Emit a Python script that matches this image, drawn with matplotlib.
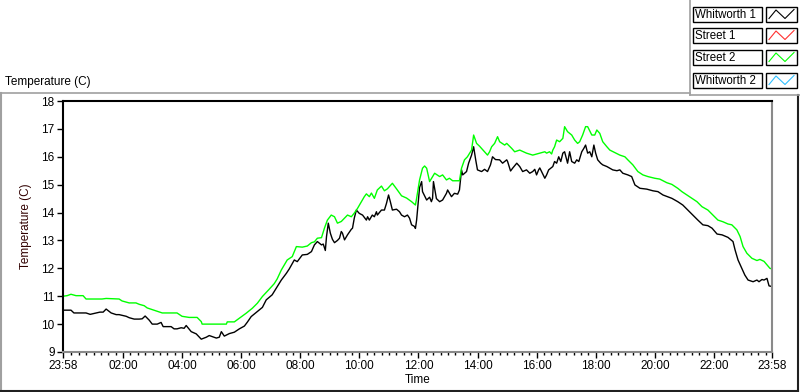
import numpy as np
import matplotlib
matplotlib.use("Agg")
import matplotlib.pyplot as plt
from matplotlib.lines import Line2D
from matplotlib.patches import Rectangle

plt.rcParams['font.family'] = ['Liberation Sans', 'DejaVu Sans']
plt.rcParams['font.size'] = 8.5

# hours after the 23:58 start
black_t = [0.00, 0.27, 0.37, 0.78, 0.92, 1.12, 1.25, 1.36, 1.46, 1.63, 1.80, 1.90, 2.14, 2.24, 2.41,
           2.58, 2.68, 2.78, 2.92, 3.02, 3.19, 3.32, 3.39, 3.66, 3.76, 3.86, 4.00, 4.10, 4.17, 4.34,
           4.51, 4.68, 4.85, 4.95, 5.19, 5.29, 5.36, 5.46, 5.63, 5.80, 5.97, 6.14, 6.24, 6.37, 6.58,
           6.75, 6.88, 7.08, 7.25, 7.39, 7.56, 7.66, 7.83, 7.93, 8.10,
           8.27, 8.41, 8.51, 8.61, 8.75, 8.81, 8.88, 8.92, 8.98, 9.05, 9.12, 9.19, 9.29, 9.36, 9.42,
           9.46, 9.53, 9.63, 9.76, 9.80, 9.86, 9.93, 10.03, 10.14, 10.27, 10.31, 10.37, 10.47, 10.54,
           10.61, 10.64, 10.78, 10.88, 10.95, 11.02, 11.08, 11.15, 11.29, 11.39, 11.46, 11.56, 11.66,
           11.73, 11.80, 11.90, 11.93, 11.97, 12.03, 12.07, 12.14, 12.17,
           12.31, 12.41, 12.47, 12.51, 12.54, 12.64, 12.75, 12.85, 12.98, 13.02, 13.15, 13.25, 13.36,
           13.42, 13.49, 13.53, 13.66, 13.73, 13.83, 13.90, 13.97, 14.03, 14.17, 14.27, 14.37, 14.47,
           14.54, 14.64, 14.78, 14.88, 15.02, 15.05, 15.15, 15.22, 15.36, 15.46, 15.56, 15.69, 15.80,
           15.90, 15.97, 16.03, 16.10, 16.14,
           16.31, 16.37, 16.44, 16.58, 16.64, 16.71, 16.78, 16.85, 16.92, 16.98, 17.08, 17.15, 17.22,
           17.32, 17.39, 17.46, 17.56, 17.63, 17.69, 17.76, 17.83, 17.90, 17.97, 18.03, 18.10, 18.20,
           18.27, 18.41, 18.51, 18.61, 18.75, 18.85, 18.95, 19.12, 19.25, 19.36, 19.53, 19.76, 19.97,
           20.14, 20.31,
           20.61, 20.81, 20.98, 21.15, 21.32, 21.49, 21.66, 21.83, 21.97, 22.14, 22.31, 22.51, 22.68,
           22.75, 22.85, 22.98, 23.08, 23.19, 23.36, 23.49, 23.56, 23.66, 23.73, 23.83, 23.90, 24.00]
whitworth1 = [10.50, 10.50, 10.40, 10.40, 10.35, 10.40, 10.43, 10.43, 10.54, 10.40, 10.34, 10.34, 10.28, 10.23, 10.18,
              10.18, 10.19, 10.29, 10.14, 10.00, 10.00, 10.06, 9.91, 9.91, 9.83, 9.83, 9.87, 9.85, 9.95, 9.73,
              9.65, 9.46, 9.53, 9.59, 9.50, 9.53, 9.73, 9.57, 9.66, 9.71, 9.83, 9.93, 10.07, 10.27, 10.45,
              10.60, 10.87, 11.05, 11.34, 11.58, 11.82, 11.98, 12.30, 12.24, 12.48,
              12.50, 12.60, 12.84, 12.96, 12.84, 12.87, 12.64, 13.14, 13.62, 13.26, 13.04, 12.92, 13.00, 13.08, 13.32,
              13.26, 13.02, 13.20, 13.40, 13.44, 13.80, 14.09, 13.97, 13.91, 13.73, 13.85, 13.73, 13.91, 13.85,
              14.03, 13.91, 14.09, 14.09, 14.33, 14.63, 14.39, 14.09, 14.12, 14.03, 13.91, 13.85, 13.91,
              13.80, 13.56, 13.50, 13.43, 13.73, 14.45, 14.90, 15.11, 14.75,
              14.45, 14.55, 14.39, 14.51, 15.11, 14.50, 14.39, 14.45, 14.69, 14.81, 14.57, 14.69, 14.66,
              14.81, 15.53, 15.35, 15.47, 15.77, 16.06, 16.36, 15.89, 15.53, 15.47, 15.55, 15.47, 15.71,
              16.00, 15.90, 15.89, 15.77, 15.89, 15.83, 15.49, 15.59, 15.77, 15.65, 15.47, 15.53, 15.41,
              15.47, 15.55, 15.35, 15.53, 15.60,
              15.23, 15.35, 15.53, 15.65, 15.83, 15.77, 16.00, 15.83, 16.13, 16.18, 15.77, 16.18, 15.83,
              15.77, 15.89, 15.83, 16.18, 16.30, 16.42, 16.13, 16.18, 16.00, 16.42, 16.13, 15.89, 15.77,
              15.71, 15.65, 15.59, 15.53, 15.50, 15.53, 15.41, 15.35, 15.29, 14.99, 14.87, 14.84, 14.78,
              14.75, 14.63,
              14.51, 14.39, 14.27, 14.09, 13.91, 13.73, 13.56, 13.53, 13.44, 13.23, 13.20, 13.11, 12.96,
              12.66, 12.30, 12.00, 11.76, 11.58, 11.52, 11.58, 11.52, 11.60, 11.58, 11.64, 11.37, 11.35]

green_t = [0.00, 0.14, 0.27, 0.44, 0.68, 0.78, 1.32, 1.46, 1.90, 2.00, 2.24, 2.47, 2.58, 2.75, 2.85,
           3.02, 3.19, 3.36, 3.86, 4.03, 4.27, 4.54, 4.68, 4.71, 5.53, 5.56, 5.80, 5.97, 6.20, 6.41,
           6.58, 6.75, 6.98, 7.15, 7.25, 7.39, 7.59, 7.76, 7.90, 8.10, 8.27, 8.41, 8.51, 8.61, 8.75,
           8.85, 8.95, 9.08, 9.19, 9.29, 9.42, 9.53, 9.63, 9.76, 9.86, 9.97, 10.10, 10.20, 10.27, 10.37,
           10.44, 10.54, 10.64, 10.78, 10.88, 10.98, 11.15, 11.29, 11.46, 11.63, 11.80, 11.93, 11.97,
           12.07, 12.17, 12.24, 12.31, 12.41, 12.58, 12.75, 12.85, 12.98, 13.08, 13.19, 13.42, 13.49,
           13.59, 13.69, 13.83, 13.90, 14.00, 14.10, 14.27, 14.37, 14.44, 14.51, 14.61, 14.71, 14.78,
           14.95, 15.02, 15.19, 15.29, 15.46, 15.69, 15.90, 16.14, 16.31, 16.37, 16.47, 16.54, 16.58,
           16.64, 16.71, 16.81, 16.92, 16.98, 17.08, 17.22, 17.32, 17.42, 17.49, 17.59, 17.69, 17.76,
           17.90, 18.00, 18.07, 18.17, 18.27, 18.41, 18.51, 18.68, 18.85, 19.02, 19.12, 19.29, 19.46,
           19.63, 19.80, 20.03, 20.20, 20.44, 20.61, 20.81, 20.95, 21.12, 21.29, 21.46, 21.63, 21.83,
           22.00, 22.17, 22.34, 22.51, 22.64, 22.81, 22.92, 23.02, 23.15, 23.32, 23.49, 23.59, 23.73,
           23.93, 24.00]
street2 = [11.00, 11.02, 11.07, 11.02, 11.02, 10.90, 10.90, 10.92, 10.90, 10.83, 10.76, 10.76, 10.71, 10.66, 10.58,
           10.52, 10.46, 10.40, 10.40, 10.28, 10.24, 10.24, 10.09, 10.00, 10.00, 10.08, 10.08, 10.21, 10.39, 10.57,
           10.75, 10.99, 11.25, 11.45, 11.62, 11.94, 12.30, 12.42, 12.78, 12.76, 12.80, 12.92, 12.95, 13.08, 13.10,
           13.44, 13.73, 13.91, 13.85, 13.62, 13.68, 13.80, 13.91, 13.85, 13.98, 14.15, 14.39, 14.57, 14.67, 14.57,
           14.70, 14.51, 14.81, 14.95, 14.78, 14.85, 15.05, 14.85, 14.60, 14.52, 14.39, 14.27, 14.51,
           15.17, 15.59, 15.67, 15.59, 15.11, 15.41, 15.29, 15.35, 15.17, 15.23, 15.14, 15.14, 15.59,
           15.89, 16.00, 16.24, 16.78, 16.48, 16.38, 16.18, 16.06, 16.18, 16.36, 16.48, 16.72, 16.54,
           16.42, 16.48, 16.30, 16.18, 16.24, 16.13, 16.06, 16.13, 16.18, 16.13, 16.18, 16.10, 16.24,
           16.36, 16.60, 16.54, 16.66, 17.08, 16.90, 16.78, 16.60, 16.48, 16.54, 16.78, 17.08, 17.08,
           16.78, 16.78, 16.96, 16.84, 16.54, 16.36, 16.24, 16.15, 16.06, 16.00, 15.89, 15.71, 15.47,
           15.35, 15.29, 15.23, 15.20, 15.07, 15.01, 14.87, 14.75, 14.63, 14.51, 14.39, 14.21, 14.09,
           13.91, 13.73, 13.67, 13.59, 13.56, 13.38, 13.14, 12.78, 12.54, 12.36, 12.28, 12.32, 12.25,
           12.00, 11.98]

tick_hours = [0, 2.0333, 4.0333, 6.0333, 8.0333, 10.0333, 12.0333, 14.0333, 16.0333,
              18.0333, 20.0333, 22.0333, 24]
tick_labels = ["23:58", "02:00", "04:00", "06:00", "08:00", "10:00", "12:00", "14:00",
               "16:00", "18:00", "20:00", "22:00", "23:58"]

legend_names = ["Whitworth 1", "Street 1", "Street 2", "Whitworth 2"]
legend_colors = ["#000000", "#ff3030", "#00ff00", "#30c0ff"]

W, H = 800, 392
fig = plt.figure(figsize=(W / 100, H / 100), dpi=100)


def fx(x):
    return x / W


def fy(y):
    return 1 - y / H


ax = fig.add_axes([fx(63), fy(352), (772 - 63) / W, (352 - 101) / H])
ax.plot(black_t, whitworth1, color="#000000", lw=1.0)
ax.plot(green_t, street2, color="#00ff00", lw=1.0)
ax.set_xlim(0, 24)
ax.set_ylim(9, 18)
ax.set_yticks(range(9, 19))
ax.set_xticks(tick_hours)
ax.set_xticklabels(tick_labels)
minor = [0.0333 + 0.25 * k for k in range(1, 96) if k % 8 != 0]
ax.set_xticks(minor, minor=True)
ax.tick_params(axis="both", which="major", direction="out", length=4, width=1, colors="black", labelsize=8.5, pad=2)
ax.tick_params(axis="x", which="minor", direction="out", length=2.5, width=1, colors="black")
for s in ["top", "left"]:
    ax.spines[s].set_color("black")
    ax.spines[s].set_linewidth(1.5)
for s in ["bottom", "right"]:
    ax.spines[s].set_color("#8a8a8a")
    ax.spines[s].set_linewidth(1.5)
ax.set_xlabel("Time", fontsize=8.5, labelpad=1)
ax.set_ylabel("Temperature (C)", fontsize=8.5, labelpad=7, color="#300000")

# chart frame
grey = "#a0a0a0"
fig.add_artist(Line2D([fx(0), fx(690)], [fy(92.5), fy(92.5)], color=grey, lw=1.2))
fig.add_artist(Line2D([fx(1), fx(1)], [fy(92.5), fy(390)], color=grey, lw=1.5))
fig.add_artist(Line2D([fx(0), fx(798)], [fy(390.5), fy(390.5)], color="#202020", lw=1.5))
fig.add_artist(Line2D([fx(798), fx(798)], [fy(95), fy(390.5)], color="#202020", lw=1.5))
fig.add_artist(Line2D([fx(690), fx(690)], [fy(0), fy(95)], color=grey, lw=1.2))
fig.add_artist(Line2D([fx(690), fx(800)], [fy(95), fy(95)], color=grey, lw=1.2))
fig.text(fx(5), fy(82), "Temperature (C)", fontsize=8.5, va="center", ha="left")

# legend boxes
row_tops = [7, 28, 50, 73]
for top, name, col in zip(row_tops, legend_names, legend_colors):
    h = 14.5
    fig.add_artist(Rectangle((fx(693), fy(top + h)), (762 - 693) / W, h / H,
                             facecolor="white", edgecolor="black", lw=1.0))
    fig.text(fx(695), fy(top + h / 2 + 1), name, fontsize=8.3, va="center", ha="left")
    fig.add_artist(Rectangle((fx(766), fy(top + h)), (797 - 766) / W, h / H,
                             facecolor="white", edgecolor="black", lw=1.0))
    zx = [769, 776, 785, 794]
    zy = [top + h - 3, top + 3, top + h - 3, top + 2.5]
    fig.add_artist(Line2D([fx(v) for v in zx], [fy(v) for v in zy], color=col, lw=0.8))

fig.savefig("out.png", dpi=100, facecolor="white")
